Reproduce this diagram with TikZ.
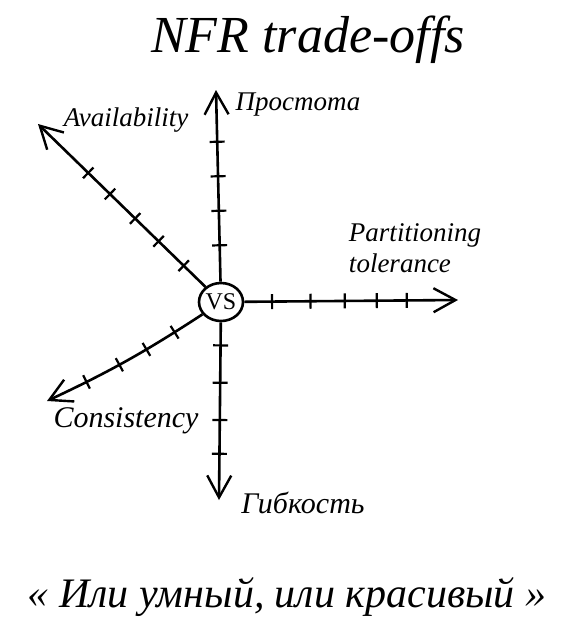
\documentclass[tikz,border=0pt]{standalone}
\usepackage{fontspec}
\setmainfont{Liberation Serif}
\usetikzlibrary{arrows.meta,shapes.geometric}

\begin{document}
\begin{tikzpicture}[x=1pt, y=-1pt,
    axis/.style={line width=2.6pt, -{Straight Barb[length=22pt, width=24pt, line width=2.4pt]}},
    axtick/.style={draw, line width=2.2pt, rectangle, inner sep=0pt, minimum width=0pt, minimum height=15pt, sloped},
    txt/.style={font=\itshape\fontsize{27}{31}\selectfont, align=left, inner sep=0pt},
    vsnode/.style={draw, ellipse, line width=2.6pt, minimum width=44pt, minimum height=38pt, inner sep=0pt, font=\fontsize{24}{24}\selectfont}
]
\useasboundingbox (0,0) rectangle (574,633);

% title and motto
\node[txt, font=\itshape\fontsize{52}{52}\selectfont] (title) at (308,40) {NFR trade-offs};
\node[txt, font=\itshape\fontsize{42}{42}\selectfont] (motto) at (287,597) {<< Или умный, или красивый >>};

% centre and axis ends
\node[vsnode] (vs) at (221,302) {VS};
\coordinate (up) at (216,90);
\coordinate (down) at (219,500);
\coordinate (right) at (458,300);
\coordinate (upleft) at (38,124);
\coordinate (downleft) at (47,401);

% axes
\draw[axis] (vs) -- (up);
\draw[axis] (vs) -- (down);
\draw[axis] (vs) -- (right);
\draw[axis] (vs) -- (upleft);
\draw[axis] (vs) to[bend left=4] (downleft);

% ticks
\foreach \p in {0.19,0.37,0.55,0.73}
    \path (vs) -- (up) node[axtick, pos=\p] {};
\foreach \p in {0.13,0.34,0.55,0.74}
    \path (vs) -- (down) node[axtick, pos=\p] {};
\foreach \p in {0.13,0.31,0.47,0.62,0.76}
    \path (vs) -- (right) node[axtick, pos=\p] {};
\foreach \p in {0.13,0.28,0.42,0.57,0.70}
    \path (vs) -- (upleft) node[axtick, pos=\p] {};
\foreach \p in {0.17,0.36,0.55,0.77}
    \path (vs) to[bend left=4] node[axtick, pos=\p] {} (downleft);

% axis names
\node[txt] (avail) at (126,120) {Availability};
\node[txt] (simple) at (298,105) {Простота};
\node[txt] (part) at (415,248) {Partitioning\\tolerance};
\node[txt, font=\itshape\fontsize{30}{30}\selectfont] (cons) at (126,421) {Consistency};
\node[txt, font=\itshape\fontsize{30}{30}\selectfont] (flex) at (303,503) {Гибкость};
\end{tikzpicture}
\end{document}
